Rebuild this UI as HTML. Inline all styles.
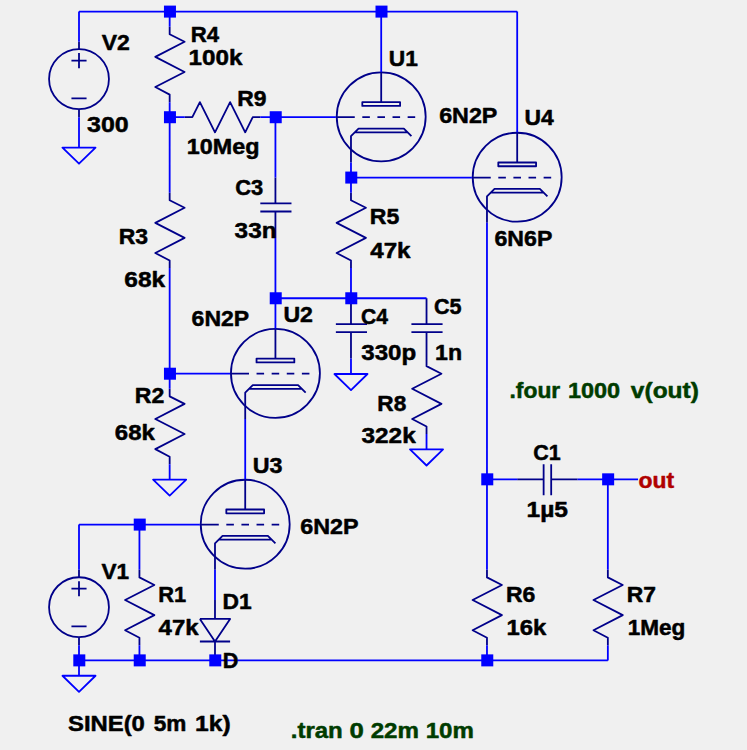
<!DOCTYPE html>
<html><head><meta charset="utf-8"><title>schematic</title>
<style>html,body{margin:0;padding:0;background:#f0f0f0;}svg{display:block}</style></head>
<body>
<svg width="747" height="750" viewBox="0 0 747 750">
<rect width="747" height="750" fill="#f0f0f0"/>
<g fill="none" stroke="#00008a" stroke-width="1.8" stroke-linejoin="round" stroke-linecap="butt">
<circle cx="381.2" cy="116.87" r="44.48"/>
<circle cx="517.19" cy="177.22" r="44.48"/>
<circle cx="275.43" cy="373.36" r="44.48"/>
<circle cx="245.21" cy="524.24" r="44.48"/>
<circle cx="79" cy="79.1" r="29.94"/>
<circle cx="79" cy="607.18" r="29.94"/>
<path d="M335.87 117.22L354.76 117.22M362.31 117.22L369.87 117.22M377.42 117.22L384.98 117.22M392.53 117.22L400.09 117.22M407.64 117.22L415.2 117.22M381.2 71.95L381.2 102.13M362.31 102.13H400.09V105.9H362.31ZM350.98 162.48L350.98 136.08L358.53 128.53L403.87 128.53L411.42 136.08M354.76 132.3L407.64 132.3M471.86 177.57L490.75 177.57M498.3 177.57L505.86 177.57M513.41 177.57L520.97 177.57M528.52 177.57L536.08 177.57M543.63 177.57L551.19 177.57M517.19 132.3L517.19 162.48M498.3 162.48H536.08V166.25H498.3ZM486.97 222.83L486.97 196.43L494.53 188.88L539.86 188.88L547.41 196.43M490.75 192.66L543.63 192.66M230.1 373.71L248.99 373.71M256.54 373.71L264.1 373.71M271.65 373.71L279.21 373.71M286.76 373.71L294.32 373.71M301.87 373.71L309.43 373.71M275.43 328.45L275.43 358.62M256.54 358.62H294.32V362.4H256.54ZM245.21 418.98L245.21 392.57L252.77 385.03L298.1 385.03L305.65 392.57M248.99 388.8L301.87 388.8M199.88 524.59L218.77 524.59M226.32 524.59L233.88 524.59M241.43 524.59L248.99 524.59M256.54 524.59L264.1 524.59M271.65 524.59L279.21 524.59M245.21 479.33L245.21 509.5M226.32 509.5H264.1V513.28H226.32ZM214.99 569.86L214.99 543.45L222.54 535.91L267.88 535.91L275.43 543.45M218.77 539.68L271.65 539.68M79 41.78L79 49.32M79 109.67L79 117.22M71.44 60.64L86.56 60.64M79 53.09L79 68.18M71.44 98.36L86.56 98.36M79 569.86L79 577.4M79 637.75L79 645.3M71.44 588.72L86.56 588.72M79 581.17L79 596.26M71.44 626.44L86.56 626.44M169.66 26.69L169.66 34.23L184.58 41.78L155.31 56.86L184.58 71.95L155.31 87.04L169.66 94.58L169.66 102.13M169.66 192.66L169.66 200.2L184.58 207.74L155.31 222.83L184.58 237.92L155.31 253.01L169.66 260.55L169.66 268.1M169.66 388.8L169.66 396.34L184.58 403.89L155.31 418.98L184.58 434.06L155.31 449.15L169.66 456.7L169.66 464.24M350.98 192.66L350.98 200.2L365.9 207.74L336.63 222.83L365.9 237.92L336.63 253.01L350.98 260.55L350.98 268.1M426.53 358.62L426.53 366.17L441.45 373.71L412.18 388.8L441.45 403.89L412.18 418.98L426.53 426.52L426.53 434.06M139.44 569.86L139.44 577.4L154.36 584.94L125.09 600.03L154.36 615.12L125.09 630.21L139.44 637.75L139.44 645.3M486.97 569.86L486.97 577.4L501.89 584.94L472.62 600.03L501.89 615.12L472.62 630.21L486.97 637.75L486.97 645.3M607.85 569.86L607.85 577.4L622.77 584.94L593.5 600.03L622.77 615.12L593.5 630.21L607.85 637.75L607.85 645.3M184.77 117.22L192.32 117.22L199.88 102.13L214.99 132.3L230.1 102.13L245.21 132.3L252.76 117.22L260.32 117.22M275.43 177.57L275.43 203.41M260.32 203.41L291.48 203.41M260.32 211.52L291.48 211.52M275.43 211.52L275.43 237.92M350.98 298.27L350.98 324.11M335.87 324.11L367.03 324.11M335.87 332.22L367.03 332.22M350.98 332.22L350.98 358.62M426.53 298.27L426.53 324.11M411.42 324.11L442.58 324.11M411.42 332.22L442.58 332.22M426.53 332.22L426.53 358.62M517.19 479.33L543.63 479.33M543.63 464.24L543.63 495.36M551.19 464.24L551.19 495.36M551.19 479.33L577.63 479.33M214.99 600.03L214.99 618.89M199.88 618.89L230.1 618.89L214.99 641.52L199.88 618.89M199.88 641.52L230.1 641.52M214.99 641.52L214.99 660.38"/></g>
<path fill="none" stroke="#0000ff" stroke-width="1.8" stroke-linejoin="round" d="M79 11.6L517.19 11.6M79 11.6L79 41.78M79 117.22L79 147.39M62.47 147.69L95.53 147.69L79 163.72ZM169.66 11.6L169.66 26.69M169.66 102.13L169.66 192.66M169.66 117.22L184.77 117.22M260.32 117.22L335.87 117.22M381.2 11.6L381.2 71.95M350.98 162.48L350.98 192.66M350.98 177.57L471.86 177.57M517.19 11.6L517.19 132.3M486.97 222.83L486.97 569.86M486.97 479.33L517.19 479.33M577.63 479.33L638.07 479.33M607.85 479.33L607.85 569.86M607.85 645.3L607.85 660.38M486.97 645.3L486.97 660.38M79 660.38L607.85 660.38M79 645.3L79 675.47M62.47 675.77L95.53 675.77L79 691.8ZM79 569.86L79 524.59M79 524.59L199.88 524.59M139.44 524.59L139.44 569.86M139.44 645.3L139.44 660.38M245.21 418.98L245.21 479.33M214.99 569.86L214.99 600.03M214.99 659.38L214.99 660.38M169.66 268.1L169.66 388.8M169.66 373.71L230.1 373.71M169.66 464.24L169.66 479.33M153.13 479.63L186.19 479.63L169.66 495.66ZM275.43 117.22L275.43 177.57M275.43 237.92L275.43 328.45M275.43 298.27L426.53 298.27M350.98 268.1L350.98 298.27M350.98 358.62L350.98 373.71M334.45 374.01L367.51 374.01L350.98 390.04ZM426.53 434.06L426.53 449.15M410 449.45L443.06 449.45L426.53 465.48Z"/>
<g fill="#0000ff"><rect x="163.96" y="5.6" width="12" height="12"/><rect x="375.5" y="5.6" width="12" height="12"/><rect x="163.96" y="111.22" width="12" height="12"/><rect x="269.73" y="111.22" width="12" height="12"/><rect x="345.28" y="171.57" width="12" height="12"/><rect x="269.73" y="292.27" width="12" height="12"/><rect x="345.28" y="292.27" width="12" height="12"/><rect x="163.96" y="367.71" width="12" height="12"/><rect x="133.74" y="518.59" width="12" height="12"/><rect x="481.27" y="473.33" width="12" height="12"/><rect x="602.15" y="473.33" width="12" height="12"/><rect x="73.3" y="654.38" width="12" height="12"/><rect x="133.74" y="654.38" width="12" height="12"/><rect x="209.29" y="654.38" width="12" height="12"/><rect x="481.27" y="654.38" width="12" height="12"/></g>
<g font-family="'Liberation Sans',sans-serif" font-weight="bold" font-size="22" stroke-width="0.5" stroke-linejoin="round"><text transform="translate(101.77 49.6) scale(1.0451 1)" fill="#000000" stroke="#000000">V2</text>
<text transform="translate(87.1 131.8) scale(1.1350 1)" fill="#000000" stroke="#000000">300</text>
<text transform="translate(190.75 41.7) scale(1.0076 1)" fill="#000000" stroke="#000000">R4</text>
<text transform="translate(188.55 65.3) scale(1.1006 1)" fill="#000000" stroke="#000000">100k</text>
<text transform="translate(237.2 106) scale(1.0412 1)" fill="#000000" stroke="#000000">R9</text>
<text transform="translate(186.8 153.9) scale(1.0611 1)" fill="#000000" stroke="#000000">10Meg</text>
<text transform="translate(235.22 194.7) scale(0.9962 1)" fill="#000000" stroke="#000000">C3</text>
<text transform="translate(234.61 237.7) scale(1.1059 1)" fill="#000000" stroke="#000000">33n</text>
<text transform="translate(118.69 243.9) scale(1.0451 1)" fill="#000000" stroke="#000000">R3</text>
<text transform="translate(124.32 287.3) scale(1.1127 1)" fill="#000000" stroke="#000000">68k</text>
<text transform="translate(388.83 66) scale(1.0351 1)" fill="#000000" stroke="#000000">U1</text>
<text transform="translate(439.17 123.2) scale(1.0587 1)" fill="#000000" stroke="#000000">6N2P</text>
<text transform="translate(524.43 125.3) scale(1.0406 1)" fill="#000000" stroke="#000000">U4</text>
<text transform="translate(494.47 246.3) scale(1.0513 1)" fill="#000000" stroke="#000000">6N6P</text>
<text transform="translate(369.79 223.9) scale(1.0478 1)" fill="#000000" stroke="#000000">R5</text>
<text transform="translate(370.22 258.4) scale(1.0992 1)" fill="#000000" stroke="#000000">47k</text>
<text transform="translate(191.58 325.8) scale(1.0475 1)" fill="#000000" stroke="#000000">6N2P</text>
<text transform="translate(283.41 322.2) scale(1.0516 1)" fill="#000000" stroke="#000000">U2</text>
<text transform="translate(360.95 323.6) scale(0.9608 1)" fill="#000000" stroke="#000000">C4</text>
<text transform="translate(434.04 314.4) scale(0.9805 1)" fill="#000000" stroke="#000000">C5</text>
<text transform="translate(361.32 359.7) scale(1.0954 1)" fill="#000000" stroke="#000000">330p</text>
<text transform="translate(435.11 359.7) scale(1.0533 1)" fill="#000000" stroke="#000000">1n</text>
<text transform="translate(377.32 410.8) scale(1.0285 1)" fill="#000000" stroke="#000000">R8</text>
<text transform="translate(361.51 442.9) scale(1.1074 1)" fill="#000000" stroke="#000000">322k</text>
<text transform="translate(134.78 403.1) scale(1.0490 1)" fill="#000000" stroke="#000000">R2</text>
<text transform="translate(114.84 440) scale(1.0904 1)" fill="#000000" stroke="#000000">68k</text>
<text transform="translate(252.7 472.5) scale(1.0593 1)" fill="#000000" stroke="#000000">U3</text>
<text transform="translate(300.17 534) scale(1.0606 1)" fill="#000000" stroke="#000000">6N2P</text>
<text transform="translate(101.47 578.6) scale(1.0275 1)" fill="#000000" stroke="#000000">V1</text>
<text transform="translate(158.17 601.5) scale(0.9938 1)" fill="#000000" stroke="#000000">R1</text>
<text transform="translate(158.62 635.2) scale(1.0882 1)" fill="#000000" stroke="#000000">47k</text>
<text transform="translate(222.6 608.8) scale(1.0362 1)" fill="#000000" stroke="#000000">D1</text>
<text transform="translate(222.69 668.4) scale(0.9836 1)" fill="#000000" stroke="#000000">D</text>
<text transform="translate(533.14 460.4) scale(0.9767 1)" fill="#000000" stroke="#000000">C1</text>
<text transform="translate(526.53 516.6) scale(1.1165 1)" fill="#000000" stroke="#000000">1µ5</text>
<text transform="translate(505.99 601.7) scale(1.0451 1)" fill="#000000" stroke="#000000">R6</text>
<text transform="translate(506.47 635.4) scale(1.0841 1)" fill="#000000" stroke="#000000">16k</text>
<text transform="translate(626.8 601.7) scale(1.0384 1)" fill="#000000" stroke="#000000">R7</text>
<text transform="translate(627.75 635.4) scale(1.0251 1)" fill="#000000" stroke="#000000">1Meg</text>
<text transform="translate(67.98 731.1) scale(1.0851 1)" fill="#000000" stroke="#000000">SINE(0</text>
<text transform="translate(153.72 731.1) scale(1.0269 1)" fill="#000000" stroke="#000000">5m</text>
<text transform="translate(195.02 731.1) scale(1.1194 1)" fill="#000000" stroke="#000000">1k)</text>
<text transform="translate(509.5 397.5) scale(1.0387 1)" fill="#003c00" stroke="#003c00">.four</text>
<text transform="translate(567.89 397.5) scale(1.0678 1)" fill="#003c00" stroke="#003c00">1000</text>
<text transform="translate(630.85 397.5) scale(1.1146 1)" fill="#003c00" stroke="#003c00">v(out)</text>
<text transform="translate(290.72 737.5) scale(1.0927 1)" fill="#003c00" stroke="#003c00">.tran</text>
<text transform="translate(349.47 737.5) scale(1.1702 1)" fill="#003c00" stroke="#003c00">0</text>
<text transform="translate(370.68 737.5) scale(1.0971 1)" fill="#003c00" stroke="#003c00">22m</text>
<text transform="translate(425.65 737.5) scale(1.0953 1)" fill="#003c00" stroke="#003c00">10m</text>
<text transform="translate(638.49 487.8) scale(1.0394 1)" fill="#b00000" stroke="#b00000">out</text></g>
</svg>
</body></html>
